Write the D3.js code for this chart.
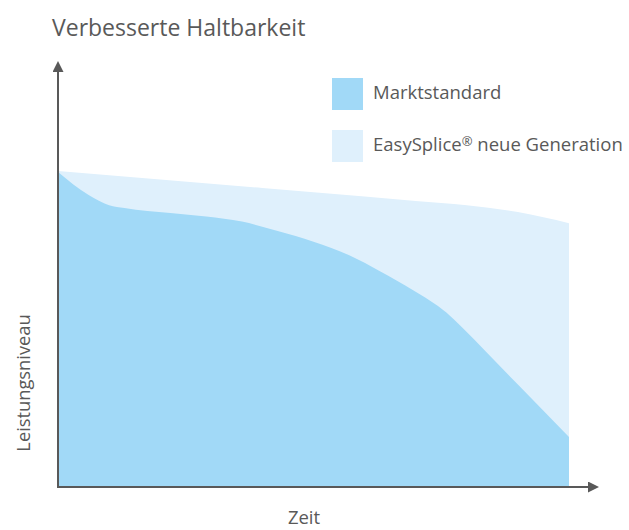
<!DOCTYPE html>
<html>
<head>
<meta charset="utf-8">
<script src="https://cdn.jsdelivr.net/npm/d3@7"></script>
<style>
  body { margin: 0; background: #fff; }
  text { font-family: "Open Sans", sans-serif; fill: #595959; }
</style>
</head>
<body>
<svg id="canvas"></svg>
<script>
const width = 629;
const height = 530;

// Zeit (0-100) and Leistungsniveau (0-100)
const standardTime = [0, 6, 10, 13, 22, 29, 36, 43, 50, 57, 63, 69.5, 76, 79, 84, 90, 100];
const standardLevel = [99.7, 92.4, 89.2, 88.3, 86.7, 85.6, 84.0, 81.0, 77.6, 73.3, 68.3, 62.3, 55.2, 50.6, 42.4, 32.4, 15.8];
const easyTime = [0, 20, 40, 60, 70, 80, 90, 100];
const easyLevel = [100, 97.3, 94.6, 91.9, 90.5, 89.2, 87, 83.5];

const seriesNames = ["Marktstandard", "EasySplice® neue Generation"];
const colors = ["#a1d9f7", "#dff0fc"];

const svg = d3.select("#canvas").attr("width", width).attr("height", height);

const xScale = d3.scaleLinear().domain([0, 100]).range([58, 569]);
const yScale = d3.scaleLinear().domain([0, 100]).range([487, 171]);

const area = d3
  .area()
  .x((d) => xScale(d[0]))
  .y0(yScale(0))
  .y1((d) => yScale(d[1]))
  .curve(d3.curveMonotoneX);

// light series behind, dark in front
svg
  .append("path")
  .datum(d3.zip(easyTime, easyLevel))
  .attr("d", area)
  .attr("fill", colors[1]);

svg
  .append("path")
  .datum(d3.zip(standardTime, standardLevel))
  .attr("d", area)
  .attr("fill", colors[0]);

// arrow heads
const defs = svg.append("defs");
defs
  .append("marker")
  .attr("id", "arrow")
  .attr("viewBox", "0 0 10 10")
  .attr("refX", 0)
  .attr("refY", 5)
  .attr("markerWidth", 5.5)
  .attr("markerHeight", 5.5)
  .attr("orient", "auto")
  .append("path")
  .attr("d", "M0,0 L10,5 L0,10 Z")
  .attr("fill", "#595959");

const x0 = xScale.range()[0];
const y0 = yScale(0);

svg
  .append("line")
  .attr("x1", x0)
  .attr("y1", y0 + 1)
  .attr("x2", x0)
  .attr("y2", 72)
  .attr("stroke", "#595959")
  .attr("stroke-width", 2)
  .attr("marker-end", "url(#arrow)");

svg
  .append("line")
  .attr("x1", x0 - 1)
  .attr("y1", y0)
  .attr("x2", 588)
  .attr("y2", y0)
  .attr("stroke", "#595959")
  .attr("stroke-width", 2)
  .attr("marker-end", "url(#arrow)");

// title
svg
  .append("text")
  .attr("x", 52)
  .attr("y", 36)
  .style("font-size", "23px")
  .text("Verbesserte Haltbarkeit");

// axis labels
svg
  .append("text")
  .attr("x", 304)
  .attr("y", 524)
  .attr("text-anchor", "middle")
  .style("font-size", "18.5px")
  .text("Zeit");

svg
  .append("text")
  .attr("transform", "translate(30, 383) rotate(-90)")
  .attr("text-anchor", "middle")
  .style("font-size", "18.3px")
  .text("Leistungsniveau");

// legend
const legend = svg
  .append("g")
  .selectAll("g")
  .data(seriesNames)
  .enter()
  .append("g")
  .attr("transform", (d, i) => `translate(332, ${78 + i * 52})`);

legend
  .append("rect")
  .attr("width", 31)
  .attr("height", 32)
  .attr("fill", (d, i) => colors[i]);

// the ® sign is set small and raised, as in the original
legend
  .append("text")
  .attr("x", 41)
  .attr("y", 21)
  .style("font-size", "18.5px")
  .each(function (d) {
    const parts = d.split("®");
    const t = d3.select(this);
    t.append("tspan").text(parts[0]);
    if (parts.length > 1) {
      t.append("tspan")
        .attr("dy", -5)
        .style("font-size", "13px")
        .text("®");
      t.append("tspan").attr("dy", 5).text(parts[1]);
    }
  });
</script>
</body>
</html>
